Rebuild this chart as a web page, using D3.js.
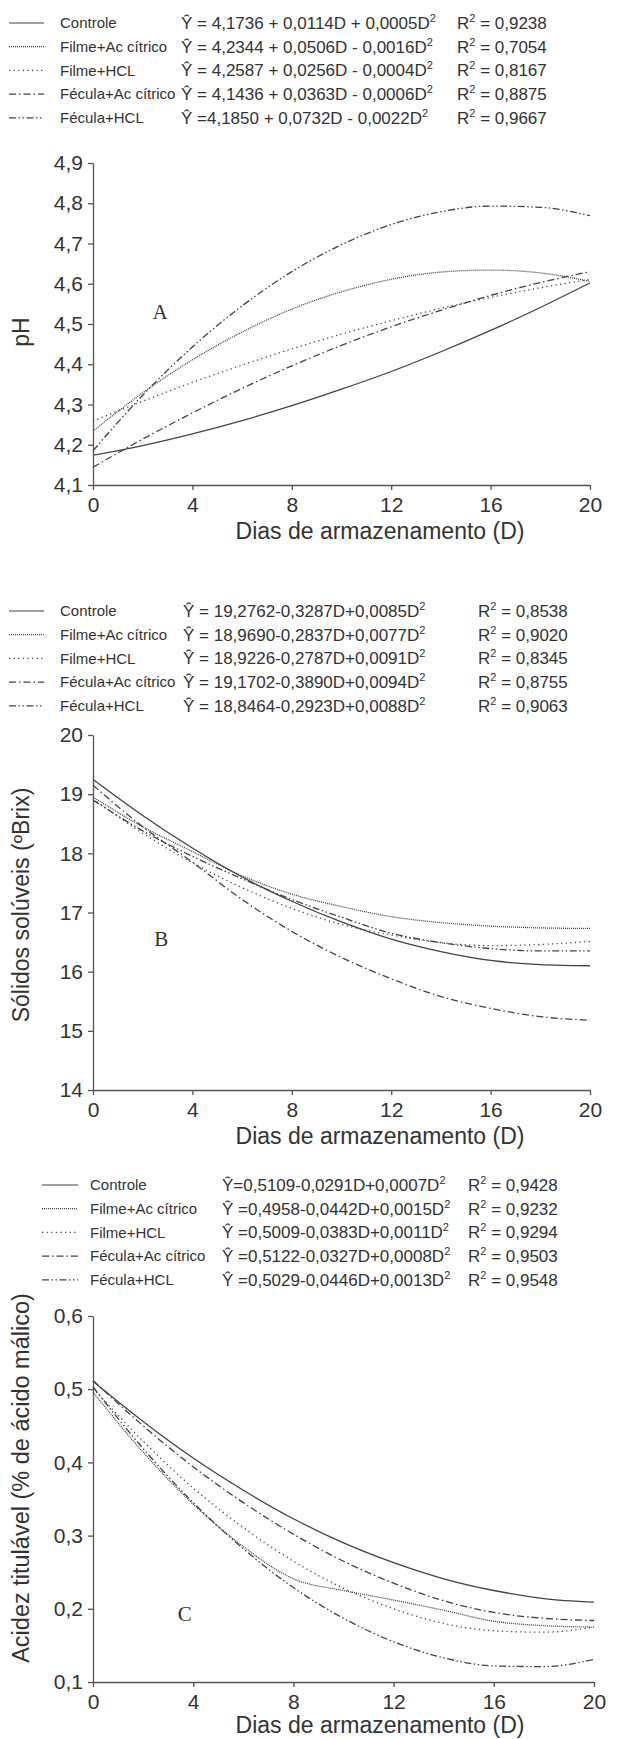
<!DOCTYPE html>
<html>
<head>
<meta charset="utf-8">
<script src="https://cdn.jsdelivr.net/npm/d3@7"></script>
<style>
  body { margin: 0; background: #fff; }
  svg text { font-family: "Liberation Sans", Arial, sans-serif; fill: #333; }
  .letter { font-family: "Liberation Serif", "Times New Roman", serif !important; }
</style>
</head>
<body>
<svg id="chart" width="618" height="1739"></svg>
<script>
// storage days and treatments
const days = [0, 2, 4, 6, 8, 10, 12, 14, 16, 18, 20];
const dayTicks = [0, 4, 8, 12, 16, 20];
const treatments = ["Controle", "Filme+Ac cítrico", "Filme+HCL", "Fécula+Ac cítrico", "Fécula+HCL"];
const dashes = [null, "1,1", "1.2,3.4", "7,3,1.5,3", "7,2.5,1.5,2.5,1.5,2.5"];

// pH (panel A), one row per treatment, read at each day
const phValues = [
  [4.174, 4.198, 4.227, 4.260, 4.297, 4.338, 4.382, 4.431, 4.484, 4.541, 4.602],
  [4.234, 4.329, 4.411, 4.480, 4.537, 4.580, 4.611, 4.629, 4.634, 4.627, 4.606],
  [4.259, 4.308, 4.355, 4.398, 4.438, 4.475, 4.508, 4.539, 4.566, 4.590, 4.611],
  [4.144, 4.214, 4.279, 4.340, 4.396, 4.447, 4.493, 4.534, 4.571, 4.603, 4.630],
  [4.185, 4.323, 4.443, 4.545, 4.630, 4.697, 4.747, 4.779, 4.793, 4.790, 4.769]
];
const phTicks = [4.1, 4.2, 4.3, 4.4, 4.5, 4.6, 4.7, 4.8, 4.9];
const phEquations = [
  "Ŷ = 4,1736 + 0,0114D + 0,0005D",
  "Ŷ = 4,2344 + 0,0506D - 0,0016D",
  "Ŷ = 4,2587 + 0,0256D - 0,0004D",
  "Ŷ = 4,1436 + 0,0363D - 0,0006D",
  "Ŷ =4,1850 + 0,0732D - 0,0022D"
];
const phR2 = ["0,9238", "0,7054", "0,8167", "0,8875", "0,9667"];

// soluble solids (panel B)
const brixValues = [
  [19.25, 18.64, 18.09, 17.60, 17.19, 16.84, 16.55, 16.34, 16.19, 16.12, 16.10],
  [18.95, 18.45, 18.03, 17.62, 17.31, 17.10, 16.93, 16.83, 16.77, 16.74, 16.73],
  [18.92, 18.34, 17.84, 17.42, 17.07, 16.80, 16.62, 16.49, 16.44, 16.46, 16.51],
  [19.15, 18.45, 17.85, 17.22, 16.68, 16.24, 15.88, 15.58, 15.38, 15.24, 15.18],
  [18.90, 18.38, 17.95, 17.57, 17.22, 16.92, 16.65, 16.49, 16.39, 16.35, 16.35]
];
const brixTicks = [14, 15, 16, 17, 18, 19, 20];
const brixEquations = [
  "Ŷ = 19,2762-0,3287D+0,0085D",
  "Ŷ = 18,9690-0,2837D+0,0077D",
  "Ŷ = 18,9226-0,2787D+0,0091D",
  "Ŷ = 19,1702-0,3890D+0,0094D",
  "Ŷ = 18,8464-0,2923D+0,0088D"
];
const brixR2 = ["0,8538", "0,9020", "0,8345", "0,8755", "0,9063"];

// titratable acidity (panel C)
const acidValues = [
  [0.511, 0.456, 0.406, 0.362, 0.323, 0.290, 0.263, 0.241, 0.225, 0.214, 0.209],
  [0.496, 0.414, 0.343, 0.285, 0.241, 0.225, 0.212, 0.198, 0.183, 0.177, 0.175],
  [0.501, 0.429, 0.365, 0.311, 0.265, 0.228, 0.200, 0.180, 0.170, 0.168, 0.175],
  [0.512, 0.450, 0.394, 0.345, 0.302, 0.265, 0.235, 0.211, 0.195, 0.187, 0.184],
  [0.503, 0.419, 0.345, 0.282, 0.229, 0.187, 0.155, 0.133, 0.122, 0.121, 0.131]
];
const acidTicks = [0.1, 0.2, 0.3, 0.4, 0.5, 0.6];
const acidEquations = [
  "Ŷ=0,5109-0,0291D+0,0007D",
  "Ŷ =0,4958-0,0442D+0,0015D",
  "Ŷ =0,5009-0,0383D+0,0011D",
  "Ŷ =0,5122-0,0327D+0,0008D",
  "Ŷ =0,5029-0,0446D+0,0013D"
];
const acidR2 = ["0,9428", "0,9232", "0,9294", "0,9503", "0,9548"];

const svg = d3.select("#chart");
const ink = "#444";

function drawPanel(cfg) {
  const g = svg.append("g");

  // legend
  const leg = g.append("g");
  treatments.forEach((name, i) => {
    const y = cfg.legY + i * 23.7;
    leg.append("line")
      .attr("x1", cfg.legX[0]).attr("x2", cfg.legX[1])
      .attr("y1", y).attr("y2", y)
      .attr("stroke", ink).attr("stroke-width", 1.2)
      .attr("stroke-dasharray", dashes[i]);
    leg.append("text")
      .attr("x", cfg.legX[2]).attr("y", y).attr("dy", "0.35em")
      .attr("font-size", 15).text(name);
    const eq = leg.append("text")
      .attr("x", cfg.legX[3]).attr("y", y).attr("dy", "0.35em")
      .attr("font-size", 17);
    eq.append("tspan").text(cfg.equations[i]);
    eq.append("tspan").attr("dy", -7).attr("font-size", 11).text("2");
    const r2 = leg.append("text")
      .attr("x", cfg.legX[4]).attr("y", y).attr("dy", "0.35em")
      .attr("font-size", 17);
    r2.append("tspan").text("R");
    r2.append("tspan").attr("dy", -7).attr("font-size", 11).text("2");
    r2.append("tspan").attr("dy", 7).text(" = " + cfg.r2[i]);
  });

  // scales
  const x = d3.scaleLinear().domain([0, 20]).range([cfg.left, cfg.right]);
  const y = d3.scaleLinear().domain(cfg.yDomain).range([cfg.bottom, cfg.top]);
  const fmt = v => d3.format(cfg.fmt)(v).replace(".", ",");

  // axes
  const xAxis = g.append("g")
    .attr("transform", `translate(0,${cfg.bottom})`)
    .call(d3.axisBottom(x).tickValues(dayTicks).tickSize(5).tickSizeOuter(0).tickPadding(7));
  const yAxis = g.append("g")
    .attr("transform", `translate(${cfg.left},0)`)
    .call(d3.axisLeft(y).tickValues(cfg.ticks).tickFormat(fmt).tickSize(5).tickSizeOuter(0).tickPadding(5));
  [xAxis, yAxis].forEach(a => {
    a.select(".domain").attr("stroke", "#555").attr("stroke-width", 1.3);
    a.selectAll(".tick line").attr("stroke", "#555").attr("stroke-width", 1.3);
    a.selectAll(".tick text").attr("font-size", 21).attr("fill", "#333")
      .attr("font-family", "Liberation Sans, Arial, sans-serif");
  });

  // axis titles
  g.append("text")
    .attr("x", 380).attr("y", cfg.bottom + cfg.xTitleGap)
    .attr("text-anchor", "middle").attr("font-size", 23)
    .text("Dias de armazenamento (D)");
  g.append("text")
    .attr("transform", `translate(21,${cfg.yTitleY}) rotate(-90)`)
    .attr("text-anchor", "middle").attr("dy", "0.35em").attr("font-size", cfg.yTitleSize)
    .text(cfg.yTitle);

  // panel letter
  g.append("text")
    .attr("class", "letter")
    .attr("x", x(cfg.letterAt[0])).attr("y", y(cfg.letterAt[1]))
    .attr("text-anchor", "middle").attr("dy", "0.35em").attr("font-size", 21)
    .text(cfg.letter);

  // curves
  const line = d3.line()
    .x((d, i) => x(days[i]))
    .y(d => y(d))
    .curve(d3.curveMonotoneX);
  g.selectAll("path.curve")
    .data(cfg.values)
    .enter()
    .append("path")
    .attr("class", "curve")
    .attr("d", line)
    .attr("fill", "none")
    .attr("stroke", ink)
    .attr("stroke-width", 1.3)
    .attr("stroke-dasharray", (d, i) => dashes[i]);
}

drawPanel({
  legY: 23, legX: [9, 44, 60, 181, 457],
  equations: phEquations, r2: phR2,
  left: 93, right: 590, top: 163, bottom: 485,
  yDomain: [4.1, 4.9], ticks: phTicks, fmt: ".1f",
  yTitle: "pH", yTitleY: 332, yTitleSize: 23, xTitleGap: 54,
  letter: "A", letterAt: [2.7, 4.53],
  values: phValues
});

drawPanel({
  legY: 611, legX: [9, 44, 60, 183, 478],
  equations: brixEquations, r2: brixR2,
  left: 93, right: 590, top: 735, bottom: 1090,
  yDomain: [14, 20], ticks: brixTicks, fmt: "d",
  yTitle: "Sólidos solúveis (ºBrix)", yTitleY: 905, yTitleSize: 23, xTitleGap: 54,
  letter: "B", letterAt: [2.75, 16.55],
  values: brixValues
});

drawPanel({
  legY: 1185, legX: [42, 78, 90, 222, 468],
  equations: acidEquations, r2: acidR2,
  left: 93, right: 594, top: 1316, bottom: 1682,
  yDomain: [0.1, 0.6], ticks: acidTicks, fmt: ".1f",
  yTitle: "Acidez titulável (% de ácido málico)", yTitleY: 1478, yTitleSize: 23.5, xTitleGap: 51,
  letter: "C", letterAt: [3.66, 0.194],
  values: acidValues
});
</script>
</body>
</html>
